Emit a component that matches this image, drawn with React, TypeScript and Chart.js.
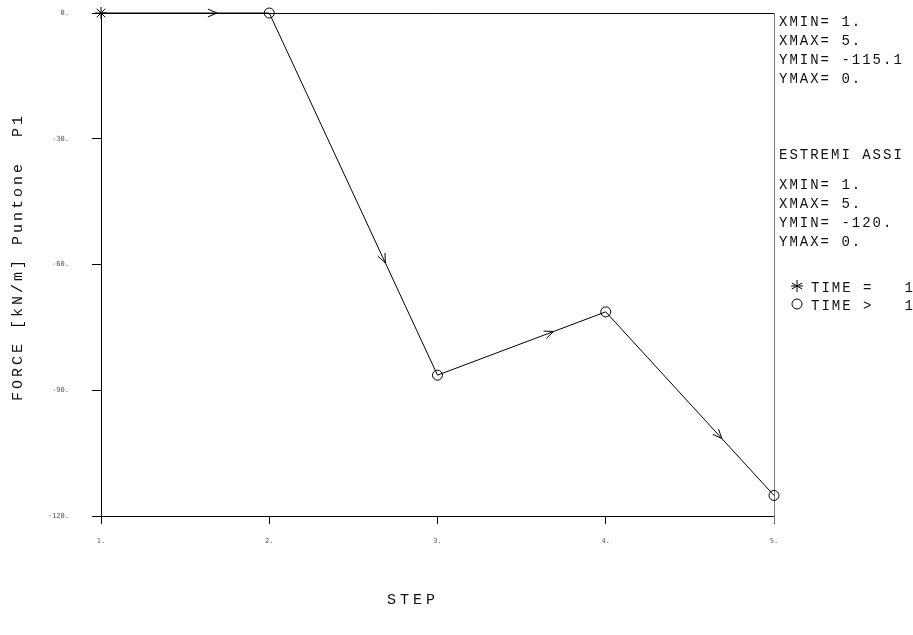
import React, { useEffect, useRef } from "react";
import { Chart, registerables } from "chart.js";
Chart.register(...registerables);

const steps = [1, 2, 3, 4, 5];
const force = [0, 0, -86.4, -71.3, -115.1];
const pointStyles = ["star", "circle", "circle", "circle", "circle"];
const xTickValues = [1, 2, 3, 4, 5];
const yTickValues = [0, -30, -60, -90, -120];
const xTitle = "STEP";
const yTitle = "FORCE [kN/m] Puntone  P1";
const infoBlock1 = ["XMIN= 1.", "XMAX= 5.", "YMIN= -115.1", "YMAX= 0."];
const infoHeader = "ESTREMI ASSI";
const infoBlock2 = ["XMIN= 1.", "XMAX= 5.", "YMIN= -120.", "YMAX= 0."];
const legendLabels = ["TIME =   1", "TIME >   1"];

const MONO = "'Liberation Mono', 'DejaVu Sans Mono', monospace";

function drawStar(ctx: CanvasRenderingContext2D, x: number, y: number, r: number) {
  ctx.beginPath();
  ctx.moveTo(x - r, y);
  ctx.lineTo(x + r, y);
  for (let k = 0; k < 3; k++) {
    const a = Math.PI / 2 + (k * Math.PI) / 3;
    ctx.moveTo(x + r * Math.cos(a), y + r * Math.sin(a));
    ctx.lineTo(x - r * Math.cos(a), y - r * Math.sin(a));
  }
  ctx.stroke();
}

function setSpacing(ctx: CanvasRenderingContext2D, px: number) {
  try { (ctx as any).letterSpacing = px + "px"; } catch (e) {}
}

const decor = {
  id: "decor",
  beforeDatasetsDraw(chart: any) {
    const { ctx, chartArea: a } = chart;
    ctx.save();
    ctx.lineWidth = 1;
    ctx.strokeStyle = "#000";
    ctx.beginPath();
    ctx.moveTo(a.left, Math.round(a.top) + 0.5);
    ctx.lineTo(a.right, Math.round(a.top) + 0.5);
    ctx.stroke();
    ctx.strokeStyle = "#7a7a7a";
    ctx.beginPath();
    ctx.moveTo(Math.round(a.right) + 0.5, a.top);
    ctx.lineTo(Math.round(a.right) + 0.5, a.bottom + 7);
    ctx.stroke();
    ctx.restore();
  },
  afterDatasetsDraw(chart: any) {
    const { ctx } = chart;
    const pts = chart.getDatasetMeta(0).data;
    ctx.save();
    ctx.strokeStyle = "#000";
    ctx.lineWidth = 1;
    for (let i = 0; i < pts.length - 1; i++) {
      const p0 = pts[i], p1 = pts[i + 1];
      const dx = p1.x - p0.x, dy = p1.y - p0.y;
      const t = 0.69;
      const tx = p0.x + dx * t, ty = p0.y + dy * t;
      const ang = Math.atan2(dy, dx);
      const L = 10, h = 0.4;
      ctx.beginPath();
      ctx.moveTo(tx - L * Math.cos(ang - h), ty - L * Math.sin(ang - h));
      ctx.lineTo(tx, ty);
      ctx.lineTo(tx - L * Math.cos(ang + h), ty - L * Math.sin(ang + h));
      ctx.stroke();
    }
    ctx.restore();
  },
  afterDraw(chart: any) {
    const { ctx } = chart;
    ctx.save();
    ctx.fillStyle = "#111";
    ctx.textBaseline = "middle";
    ctx.font = `14px ${MONO}`;
    setSpacing(ctx, 2);
    ctx.textAlign = "left";
    infoBlock1.forEach((s, i) => ctx.fillText(s, 779, 22 + i * 19));
    ctx.fillText(infoHeader, 779, 155);
    infoBlock2.forEach((s, i) => ctx.fillText(s, 779, 185 + i * 19));
    legendLabels.forEach((s, i) => ctx.fillText(s, 811, 288 + i * 18));
    // legend markers
    ctx.strokeStyle = "#000";
    ctx.lineWidth = 1;
    drawStar(ctx, 797, 286, 6);
    ctx.beginPath();
    ctx.arc(797, 304, 5, 0, Math.PI * 2);
    ctx.stroke();
    // axis titles
    ctx.font = `15px ${MONO}`;
    setSpacing(ctx, 4);
    ctx.textAlign = "center";
    ctx.fillText(xTitle, 413, 600);
    setSpacing(ctx, 3);
    ctx.translate(18, 257);
    ctx.rotate(-Math.PI / 2);
    ctx.fillText(yTitle, 0, 0);
    ctx.restore();
  },
};

export default function App() {
  const ref = useRef<HTMLCanvasElement | null>(null);
  useEffect(() => {
    if (!ref.current) return;
    const tickFont = { family: "'DejaVu Sans Mono', monospace", size: 7 };
    const chart = new Chart(ref.current, {
      type: "line",
      data: {
        datasets: [
          {
            data: steps.map((s, i) => ({ x: s, y: force[i] })),
            borderColor: "#000",
            borderWidth: 1,
            tension: 0,
            pointStyle: pointStyles as any,
            pointRadius: [6, 5, 5, 5, 5],
            pointBorderColor: "#000",
            pointBorderWidth: 1,
            pointBackgroundColor: "rgba(255,255,255,0)",
            clip: false as any,
          },
        ],
      },
      options: {
        animation: false,
        responsive: false,
        devicePixelRatio: 1,
        layout: { padding: { top: 13, right: 139, left: 0, bottom: 0 } },
        plugins: { legend: { display: false }, tooltip: { enabled: false } },
        scales: {
          x: {
            type: "linear",
            min: 1,
            max: 5,
            afterBuildTicks: (s: any) => { s.ticks = xTickValues.map((v) => ({ value: v })); },
            afterFit: (s: any) => { s.height = 119; s.paddingLeft = 0; s.paddingRight = 0; },
            ticks: { callback: (v: any) => v + ".", font: tickFont, color: "#555", padding: 13, maxRotation: 0 },
            grid: { drawOnChartArea: false, drawTicks: true, tickLength: 8, color: "#000" },
            border: { color: "#000", width: 1 },
          },
          y: {
            type: "linear",
            min: -120,
            max: 0,
            afterBuildTicks: (s: any) => { s.ticks = yTickValues.map((v) => ({ value: v })); },
            afterFit: (s: any) => { s.width = 101; s.paddingTop = 0; s.paddingBottom = 0; },
            ticks: { callback: (v: any) => v + ".", font: tickFont, color: "#555", padding: 23 },
            grid: { drawOnChartArea: false, drawTicks: true, tickLength: 9, color: "#000" },
            border: { color: "#000", width: 1 },
          },
        },
      },
      plugins: [decor],
    });
    return () => chart.destroy();
  }, []);
  return (
    <div style={{ position: "absolute", left: 0, top: 0, width: 913, height: 635, background: "#fff" }}>
      <canvas ref={ref} width={913} height={635} style={{ width: 913, height: 635, display: "block" }} />
    </div>
  );
}
